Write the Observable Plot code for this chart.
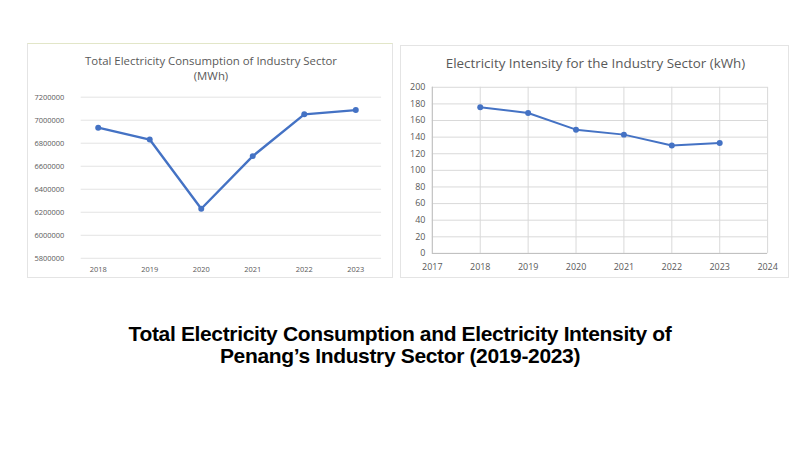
<!DOCTYPE html>
<html>
<head>
<meta charset="utf-8">
<script src="https://cdn.jsdelivr.net/npm/d3@7"></script>
<script src="https://cdn.jsdelivr.net/npm/@observablehq/plot@0.6"></script>
<style>
  html, body { margin: 0; padding: 0; background: #ffffff; }
  body { width: 800px; height: 450px; position: relative; overflow: hidden; font-family: "Open Sans", sans-serif; }
  .panel { position: absolute; box-sizing: border-box; border: 1px solid #e4e4e4; background: #fff; }
  .panel svg { position: absolute; left: 0; top: 0; overflow: visible; }
  .ptitle { position: absolute; text-align: center; color: #595959; white-space: nowrap; line-height: 1.35; }
  #main { position: absolute; left: 0; width: 800px; top: 323px; text-align: center; font-family: "Liberation Sans", Arial, sans-serif; font-weight: 700; font-size: 21px; line-height: 22px; color: #000; letter-spacing: -0.35px; white-space: nowrap; }
</style>
</head>
<body>
<div class="panel" id="left" style="left:27px; top:43px; width:366px; height:235px; border-top-color:#e2e6c8;"></div>
<div class="panel" id="right" style="left:400px; top:45px; width:389px; height:233px;"></div>
<div id="main"><span id="m1">Total Electricity Consumption and Electricity Intensity of</span><br><span id="m2">Penang’s Industry Sector (2019-2023)</span></div>
<script>
// ---- data ----
const years = [2018, 2019, 2020, 2021, 2022, 2023];
const consumption = [6935000, 6832000, 6231000, 6688000, 7051000, 7088000];
const intensity = [176, 169, 149, 143, 130, 133];
const consumptionTicks = [5800000, 6000000, 6200000, 6400000, 6600000, 6800000, 7000000, 7200000];
const intensityTicks = [0, 20, 40, 60, 80, 100, 120, 140, 160, 180, 200];
const intensityYearTicks = [2017, 2018, 2019, 2020, 2021, 2022, 2023, 2024];
const leftTitle = ["Total Electricity Consumption of Industry Sector", "(MWh)"];
const rightTitle = "Electricity Intensity for the Industry Sector (kWh)";

const consData = years.map((y, i) => ({year: y, value: consumption[i]}));
const intData = years.map((y, i) => ({year: y, value: intensity[i]}));

const blue = "#4472c4";
const grid = "#d9d9d9";
const textCol = "#595959";

// ---- left chart ----
const left = Plot.plot({
  width: 366, height: 235,
  marginLeft: 53, marginRight: 11, marginTop: 53, marginBottom: 20,
  style: {fontFamily: "Open Sans, sans-serif", fontSize: "7.5px", color: textCol, background: "transparent"},
  x: {type: "linear", domain: [2017.67, 2023.5], ticks: years, tickFormat: "d", tickSize: 0, tickPadding: 8, label: null},
  y: {domain: [5800000, 7200000], ticks: consumptionTicks, tickFormat: d => String(d), tickSize: 0, tickPadding: 17, label: null},
  marks: [
    Plot.ruleY(consumptionTicks, {stroke: "#e3e3e3", strokeWidth: 1}),
    Plot.line(consData, {x: "year", y: "value", stroke: blue, strokeWidth: 2.4}),
    Plot.dot(consData, {x: "year", y: "value", fill: blue, r: 3})
  ]
});
document.getElementById("left").appendChild(left);
const lt = document.createElement("div");
lt.className = "ptitle";
lt.style.cssText = "left:0; width:366px; top:9px; font-size:11.4px;";
lt.innerHTML = leftTitle.join("<br>");
document.getElementById("left").appendChild(lt);

// ---- right chart ----
const right = Plot.plot({
  width: 389, height: 233,
  marginLeft: 31, marginRight: 21, marginTop: 41, marginBottom: 25,
  style: {fontFamily: "Open Sans, sans-serif", fontSize: "9px", color: textCol, background: "transparent"},
  x: {type: "linear", domain: [2017, 2024], ticks: intensityYearTicks, tickFormat: "d", tickSize: 0, tickPadding: 10, label: null},
  y: {domain: [0, 200], ticks: intensityTicks, tickSize: 0, tickPadding: 7, label: null},
  marks: [
    Plot.ruleX(intensityYearTicks, {stroke: grid, strokeWidth: 1}),
    Plot.ruleY(intensityTicks, {stroke: grid, strokeWidth: 1}),
    Plot.ruleX([2017], {stroke: "#bfbfbf"}),
    Plot.ruleY([0], {stroke: "#bfbfbf"}),
    Plot.line(intData, {x: "year", y: "value", stroke: blue, strokeWidth: 2}),
    Plot.dot(intData, {x: "year", y: "value", fill: blue, r: 3})
  ]
});
document.getElementById("right").appendChild(right);
const rt = document.createElement("div");
rt.className = "ptitle";
rt.style.cssText = "left:0; width:389px; top:8px; font-size:13.4px;";
rt.textContent = rightTitle;
document.getElementById("right").appendChild(rt);
</script>
</body>
</html>
